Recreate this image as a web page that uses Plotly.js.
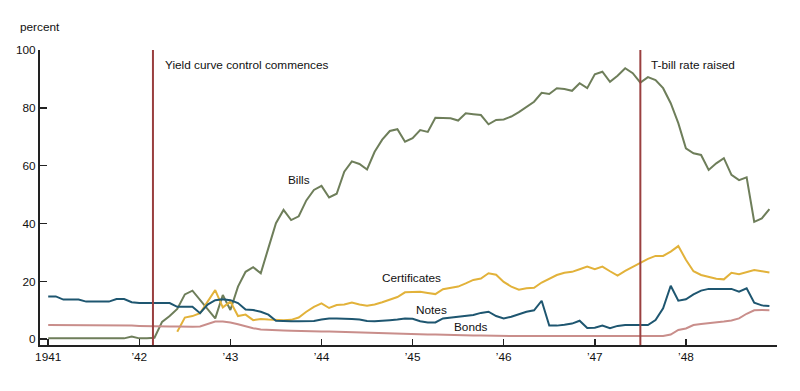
<!DOCTYPE html>
<html>
<head>
<meta charset="utf-8">
<script src="https://cdn.plot.ly/plotly-3.0.1.min.js"></script>
<style>html,body{margin:0;padding:0;background:#fff;}#chart{width:800px;height:391px;}</style>
</head>
<body>
<div id="chart"></div>
<script>
// Monthly data, Jan 1941 .. Dec 1948 (percent of marketable debt)
const startYear = 1941;
const bills = [0.3,0.3,0.3,0.3,0.3,0.3,0.3,0.3,0.3,0.3,0.3,0.9,
  0.3,0.3,0.5,6.0,8.0,10.5,15.5,16.8,13.6,10.5,7.2,15.3,
  10.1,18.2,23.3,24.9,22.8,31.5,40.1,44.7,41.2,42.5,48.0,51.6,
  53.0,49.0,50.3,57.9,61.5,60.6,58.7,64.8,69.0,72.0,72.6,68.3,
  69.5,72.3,71.7,76.6,76.5,76.4,75.6,78.1,77.8,77.5,74.3,75.8,
  76.0,77.0,78.5,80.4,82.1,85.2,84.8,86.8,86.5,85.9,88.5,86.8,
  91.6,92.5,89.0,91.1,93.7,92.0,88.7,90.6,89.6,86.8,81.6,74.7,
  66.0,64.3,63.7,58.5,60.8,62.6,56.8,55.0,56.0,40.6,41.8,45.0];
const certificates = [null,null,null,null,null,null,null,null,null,null,null,null,
  null,null,null,null,null,2.6,7.5,8.0,9.0,13.0,17.0,11.0,
  13.0,8.0,8.5,6.6,7.0,6.8,6.6,6.6,6.7,7.5,9.5,11.2,
  12.4,10.8,11.8,12.0,12.7,12.0,11.6,12.0,12.8,13.8,14.6,16.2,
  16.4,16.4,16.0,15.6,17.3,17.8,18.2,19.3,20.5,21.0,22.8,22.3,
  19.8,18.2,17.1,17.6,17.8,19.6,21.0,22.2,23.0,23.3,24.2,25.1,
  24.2,25.1,23.5,22.0,23.6,25.0,26.6,27.8,28.8,28.8,30.3,32.2,
  27.5,23.5,22.2,21.5,20.9,20.7,23.0,22.5,23.3,23.9,23.5,23.1];
const notes = [14.8,14.8,13.7,13.7,13.7,13.0,13.0,13.0,13.0,13.9,13.9,12.8,
  12.5,12.5,12.5,12.5,12.5,11.2,11.2,11.2,9.0,12.0,13.5,13.8,
  13.5,12.5,10.3,10.1,9.5,8.5,6.4,6.2,6.2,6.2,6.2,6.3,
  6.8,7.2,7.2,7.2,7.0,6.8,6.3,6.2,6.3,6.6,6.8,7.2,
  7.1,6.2,5.8,5.8,7.2,7.5,7.8,8.2,8.4,9.1,9.5,8.0,
  7.2,7.8,8.6,9.5,10.0,13.3,4.7,4.7,5.0,5.4,6.4,3.9,
  4.0,4.7,3.8,4.6,4.9,4.9,4.9,4.9,6.6,10.7,18.5,13.3,
  13.8,15.5,16.8,17.4,17.4,17.4,17.4,16.4,17.6,12.6,11.7,11.5];
const bonds = [4.9,4.9,4.9,4.8,4.8,4.8,4.8,4.8,4.7,4.7,4.7,4.7,
  4.6,4.5,4.5,4.5,4.4,4.4,4.3,4.3,4.4,5.3,6.1,6.1,
  5.8,5.2,4.5,3.8,3.4,3.2,3.1,3.0,2.9,2.8,2.8,2.7,
  2.7,2.7,2.6,2.5,2.4,2.3,2.2,2.1,2.0,1.9,1.8,1.8,
  1.7,1.7,1.6,1.6,1.5,1.5,1.4,1.4,1.3,1.3,1.2,1.2,
  1.1,1.1,1.1,1.1,1.1,1.1,1.0,1.0,1.0,1.0,1.0,1.0,
  1.0,1.0,1.0,1.0,1.0,1.0,1.0,1.0,1.0,1.1,1.6,3.2,
  3.7,4.9,5.3,5.5,5.8,6.1,6.5,7.2,8.8,10.0,10.1,10.0];
const seriesNames = ["Bills","Certificates","Notes","Bonds"];
const tickYears = [1941,1942,1943,1944,1945,1946,1947,1948];
const tickLabels = ["1941","\u201942","\u201943","\u201944","\u201945","\u201946","\u201947","\u201948"];
const eventDates = [1942.15, 1947.5];
const eventLabels = ["Yield curve control commences","T-bill rate raised"];

const x = bills.map((_, i) => startYear + i / 12);
const colors = {Bills:"#6e7e5a", Certificates:"#e2b23a", Notes:"#1e5670", Bonds:"#c98e8b"};
const dataMap = {Bills:bills, Certificates:certificates, Notes:notes, Bonds:bonds};
const font = "Liberation Sans, Arial, sans-serif";
const fs = 11.8;

const traces = seriesNames.map(n => ({
  x: x, y: dataMap[n], type: "scatter", mode: "lines", name: n,
  line: {color: colors[n], width: 2}, connectgaps: false, hoverinfo: "skip"
}));

const shapes = eventDates.map(d => ({
  type: "line", xref: "x", yref: "paper", x0: d, x1: d, y0: 0, y1: 1,
  line: {color: "#9a3f3f", width: 2}
}));

const ann = (text, xv, yv) => ({text, x: xv, y: yv, xref: "x", yref: "y",
  xanchor: "left", yanchor: "middle", showarrow: false, font: {family: font, size: fs, color: "#111"}});

const annotations = [
  ann(eventLabels[0], 1942.26, 94.8),
  ann(eventLabels[1], 1947.59, 94.8),
  ann("Bills", 1943.61, 55.0),
  ann("Certificates", 1944.64, 21.2),
  ann("Notes", 1945.02, 10.1),
  ann("Bonds", 1945.43, 4.2),
  {text: "percent", xref: "paper", yref: "paper", x: -0.03, y: 1.078,
   xanchor: "left", yanchor: "middle", showarrow: false, font: {family: font, size: fs, color: "#111"}}
];

const layout = {
  width: 800, height: 391,
  margin: {l: 40, r: 23, t: 50, b: 46},
  paper_bgcolor: "#fff", plot_bgcolor: "#fff",
  showlegend: false,
  font: {family: font, size: fs, color: "#111"},
  xaxis: {
    range: [1940.91, 1949.0], tickvals: tickYears, ticktext: tickLabels,
    ticks: "inside", ticklen: 6, tickcolor: "#222", tickwidth: 1.5,
    showline: true, linecolor: "#222", linewidth: 2, showgrid: false, zeroline: false,
    tickfont: {family: font, size: fs, color: "#111"}, fixedrange: true
  },
  yaxis: {
    range: [-2, 100], tickvals: [0,20,40,60,80,100],
    ticks: "inside", ticklen: 7, tickcolor: "#222", tickwidth: 1.5,
    showline: true, linecolor: "#222", linewidth: 2, showgrid: false, zeroline: false,
    tickfont: {family: font, size: fs, color: "#111"}, fixedrange: true
  },
  shapes, annotations
};

Plotly.newPlot("chart", traces, layout, {staticPlot: true, displayModeBar: false});
</script>
</body>
</html>
